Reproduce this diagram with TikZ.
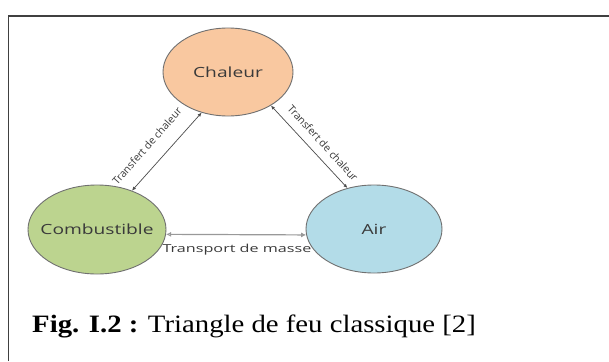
\documentclass[tikz,border=0pt]{standalone}
\usepackage{graphicx}
\usepackage{fontspec}
\setmainfont{Liberation Serif}
\newfontfamily\labfont{Open Sans}
\usetikzlibrary{shapes.geometric,arrows.meta}
\definecolor{heatfill}{HTML}{F9C8A0}
\definecolor{fuelfill}{HTML}{BCD48F}
\definecolor{airfill}{HTML}{B3DCE8}
\definecolor{edgegray}{HTML}{707070}
\definecolor{labgray}{HTML}{3A3A3A}
\newcommand{\elemtext}[1]{{\labfont\fontsize{14}{14}\selectfont\color{labgray}\scalebox{1.37}[1]{#1}}}
\begin{document}
\begin{tikzpicture}[x=1pt,y=-1pt,
  element/.style={ellipse,draw=edgegray,line width=0.9pt,inner sep=0pt},
  slab/.style={font=\labfont\fontsize{10.5}{11}\selectfont,text=labgray,inner sep=0pt},
  link/.style={draw=black!70,line width=0.7pt,{Latex[length=4pt,width=3.5pt]}-{Latex[length=4pt,width=3.5pt]}},
  masslink/.style={draw=black!40,line width=1.2pt,{Latex[open,length=5pt,width=5pt]}-{Latex[length=5pt,width=5pt]}}]
\useasboundingbox (0,0) rectangle (609,361);
\fill[white] (0,0) rectangle (609,361);
% frame around the figure
\draw[line width=1.3pt,black!75] (8.5,361) -- (8.5,16) -- (609,16);

% the three elements of the fire triangle
\node[element,fill=heatfill,minimum width=130pt,minimum height=88pt,
  label={[inner sep=0pt]center:\elemtext{Chaleur}}] (heat) at (228,72) {};
\node[element,fill=fuelfill,minimum width=138pt,minimum height=89pt,
  label={[inner sep=0pt]center:\elemtext{Combustible}}] (fuel) at (97,229.5) {};
\node[element,fill=airfill,minimum width=136pt,minimum height=88pt,
  label={[inner sep=0pt]center:\elemtext{Air}}] (air) at (374,229) {};

% exchanges between the elements
\draw[link] (fuel.48) -- (heat.-123.7);
\draw[link] (heat.-38.4) -- (air.123.4);
\draw[masslink] (fuel.-4.5) -- (air.185);

\node[slab,rotate=48.6] (lheat) at (147,146) {Transfert de chaleur};
\node[slab,rotate=-47.7] (rheat) at (323,143) {Transfert de chaleur};
\node[slab,font=\labfont\fontsize{11}{12}\selectfont] (mass) at (237,250) {\scalebox{1.47}[1]{Transport de masse}};

% caption
\node[anchor=base west,inner sep=0pt,font=\fontsize{25}{26}\selectfont] (caption) at (32,332)
  {\scalebox{1.15}[1]{\textbf{Fig. I.2 :} Triangle de feu classique [2]}};
\end{tikzpicture}
\end{document}
